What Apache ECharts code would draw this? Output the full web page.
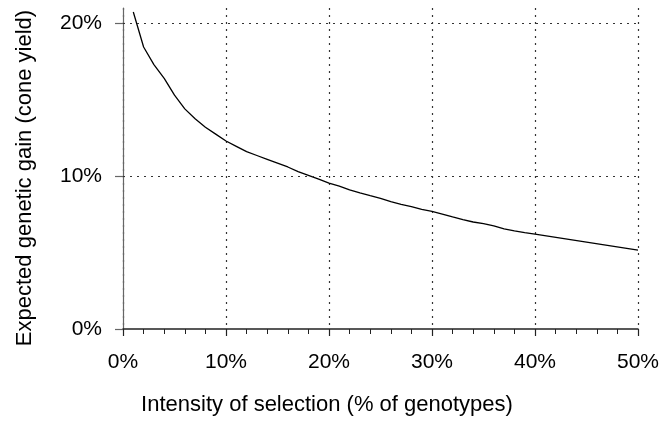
<!DOCTYPE html>
<html>
<head>
<meta charset="utf-8">
<script src="https://cdn.jsdelivr.net/npm/echarts@6/dist/echarts.min.js"></script>
<style>
  html, body { margin: 0; padding: 0; background: #fff; }
  #chart { width: 671px; height: 423px; }
</style>
</head>
<body>
<div id="chart"></div>
<script>
// Selection intensity (% of genotypes kept) and the expected gain in cone yield (%)
const intensity = [1, 2, 3, 4, 5, 6, 7, 8, 9, 10, 11, 12, 13, 14, 15, 16, 17, 18, 19, 20,
  21, 22, 23, 24, 25, 26, 27, 28, 29, 30, 31, 32, 33, 34, 35, 36, 37, 38, 39, 40, 50];
const gain = [20.74, 18.45, 17.3, 16.4, 15.3, 14.4, 13.75, 13.2, 12.75, 12.3,
  11.95, 11.6, 11.35, 11.1, 10.85, 10.6, 10.3, 10.05, 9.8, 9.55,
  9.35, 9.1, 8.9, 8.72, 8.55, 8.33, 8.15, 8.0, 7.82, 7.7,
  7.52, 7.33, 7.15, 7.0, 6.9, 6.75, 6.55, 6.42, 6.3, 6.2, 5.16];
// Tick values of the gain axis; the nonzero ones also get dotted guide lines
const gainTicks = [0, 10, 20];
const gainGridLevels = [10, 20];

const xTitle = 'Intensity of selection (% of genotypes)';
const yTitle = 'Expected genetic gain (cone yield)';

const font = 'Liberation Sans, Arial, sans-serif';
const chart = echarts.init(document.getElementById('chart'), null, { renderer: 'canvas' });

chart.setOption({
  animation: false,
  backgroundColor: '#ffffff',
  grid: { left: 123, right: 33, top: 8, bottom: 94, containLabel: false },
  graphic: [
    {
      type: 'text', x: 327, y: 405,
      style: { text: xTitle, font: '22px ' + font, fill: '#000', align: 'center', verticalAlign: 'middle' }
    },
    {
      type: 'text', x: 25, y: 178, rotation: Math.PI / 2,
      style: { text: yTitle, font: '22px ' + font, fill: '#000', align: 'center', verticalAlign: 'middle' }
    }
  ],
  xAxis: {
    type: 'value',
    min: 0, max: 50, interval: 10,
    axisLine: { show: true, lineStyle: { color: '#222', width: 1.5 } },
    axisTick: { show: true, length: 7, lineStyle: { color: '#222', width: 1.2 } },
    minorTick: { show: true, splitNumber: 5, length: 5, lineStyle: { color: '#222', width: 1 } },
    axisLabel: { fontFamily: font, fontSize: 21, color: '#000', margin: 23, formatter: v => v + '%' },
    splitLine: { show: true, lineStyle: { color: '#333', type: [2, 5], width: 1.2 } }
  },
  yAxis: {
    type: 'value',
    min: 0, max: 21, interval: 10,
    axisLine: { show: true, lineStyle: { color: '#666', width: 1.2 } },
    axisTick: { show: true, length: 8, customValues: gainTicks, lineStyle: { color: '#666', width: 1.2 } },
    axisLabel: { fontFamily: font, fontSize: 21, color: '#000', margin: 21,
      customValues: gainTicks, formatter: v => v + '%' },
    splitLine: { show: false }
  },
  series: [{
    type: 'line',
    data: intensity.map((x, i) => [x, gain[i]]),
    showSymbol: false,
    lineStyle: { color: '#000', width: 1.3 },
    markLine: {
      silent: true,
      symbol: 'none',
      label: { show: false },
      lineStyle: { color: '#333', type: [2, 5], width: 1.2 },
      data: gainGridLevels.map(v => ({ yAxis: v }))
    }
  }]
});
</script>
</body>
</html>
